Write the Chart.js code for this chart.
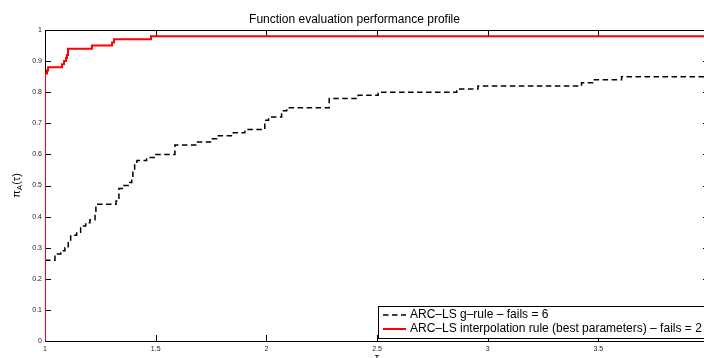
<!DOCTYPE html>
<html>
<head>
<meta charset="utf-8">
<script src="https://cdn.jsdelivr.net/npm/chart.js@4.4.1/dist/chart.umd.min.js"></script>
<style>
  html, body { margin: 0; padding: 0; overflow: hidden; background: #fff; }
  #wrap { width: 704px; height: 358px; overflow: hidden; }
  canvas { display: block; }
</style>
</head>
<body>
<div id="wrap"><canvas id="profile" width="720" height="372"></canvas></div>
<script>
// performance profile data (tau where each step starts)
var tauGrule = [1.000, 1.045, 1.071, 1.090, 1.105, 1.116, 1.143, 1.161, 1.184, 1.203,
                1.226, 1.230, 1.321, 1.334, 1.357, 1.383, 1.392, 1.397, 1.405, 1.415,
                1.459, 1.497, 1.587, 1.685, 1.748, 1.776, 1.846, 1.903, 1.993, 2.010,
                2.069, 2.092, 2.284, 2.415, 2.505, 2.860, 2.956, 3.424, 3.475, 3.605, 4.000];
var piGrule  = [0.26, 0.28, 0.29, 0.30, 0.32, 0.34, 0.35, 0.37, 0.38, 0.39,
                0.41, 0.44, 0.45, 0.49, 0.50, 0.51, 0.52, 0.55, 0.57, 0.58,
                0.59, 0.60, 0.63, 0.64, 0.65, 0.66, 0.67, 0.68, 0.71, 0.72,
                0.74, 0.75, 0.78, 0.79, 0.80, 0.81, 0.82, 0.83, 0.84, 0.85, 0.85];

var tauInterp = [1.000, 1.000, 1.009, 1.014, 1.077, 1.086, 1.095, 1.099, 1.104, 1.212, 1.303, 1.312, 1.479, 4.000];
var piInterp  = [0.00, 0.86, 0.87, 0.88, 0.89, 0.90, 0.91, 0.92, 0.94, 0.95, 0.96, 0.97, 0.98, 0.98];

var seriesNames = ['ARC–LS g–rule – fails = 6',
                   'ARC–LS interpolation rule (best parameters) – fails = 2'];

var xTicks = [1, 1.5, 2, 2.5, 3, 3.5, 4];
var yTicks = [0, 0.1, 0.2, 0.3, 0.4, 0.5, 0.6, 0.7, 0.8, 0.9, 1];

function toPoints(xs, ys) {
    return xs.map(function (x, i) { return { x: x, y: ys[i] }; });
}

var FONT = '"Liberation Sans", Arial, Helvetica, sans-serif';

// matlab style box with inward ticks and the y label, under the lines
var boxPlugin = {
    id: 'matlabBox',
    beforeDatasetsDraw: function (chart) {
        var ctx = chart.ctx, a = chart.chartArea;
        var xs = chart.scales.x, ys = chart.scales.y;
        ctx.save();
        ctx.strokeStyle = '#000';
        ctx.lineWidth = 1;
        ctx.strokeRect(a.left + 0.5, a.top + 0.5, a.right - a.left, a.bottom - a.top);
        ctx.beginPath();
        xTicks.forEach(function (v) {
            var px = Math.round(xs.getPixelForValue(v)) + 0.5;
            ctx.moveTo(px, a.bottom); ctx.lineTo(px, a.bottom - 6);
            ctx.moveTo(px, a.top); ctx.lineTo(px, a.top + 6);
        });
        yTicks.forEach(function (v) {
            var py = Math.round(ys.getPixelForValue(v)) + 0.5;
            ctx.moveTo(a.left, py); ctx.lineTo(a.left + 6, py);
            ctx.moveTo(a.right, py); ctx.lineTo(a.right - 6, py);
        });
        ctx.stroke();

        // y axis label pi_A(tau)
        ctx.translate(17, (a.top + a.bottom) / 2);
        ctx.rotate(-Math.PI / 2);
        ctx.fillStyle = '#000';
        ctx.textBaseline = 'middle';
        ctx.textAlign = 'left';
        var f1 = '11px ' + FONT, f2 = '8px ' + FONT;
        ctx.font = f1;
        var w1 = ctx.measureText('π').width, w3 = ctx.measureText('(τ)').width;
        ctx.font = f2;
        var w2 = ctx.measureText('A').width;
        var x0 = -(w1 + w2 + w3) / 2;
        ctx.font = f1; ctx.fillText('π', x0, 0);
        ctx.font = f2; ctx.fillText('A', x0 + w1, 3);
        ctx.font = f1; ctx.fillText('(τ)', x0 + w1 + w2, 0);
        ctx.restore();
    },
    // legend box inside the axes, lower right
    afterDatasetsDraw: function (chart) {
        var ctx = chart.ctx, a = chart.chartArea;
        ctx.save();
        ctx.font = '12px ' + FONT;
        var dsets = chart.data.datasets;
        var tw = 0;
        dsets.forEach(function (d) { tw = Math.max(tw, ctx.measureText(d.label).width); });
        var lw = 32 + tw + 4, lh = 32;
        var lx = Math.round(a.right - 3 - lw), ly = Math.round(a.bottom - 3 - lh);
        ctx.fillStyle = '#fff';
        ctx.fillRect(lx, ly, lw, lh);
        ctx.strokeStyle = '#000';
        ctx.lineWidth = 1;
        ctx.strokeRect(lx + 0.5, ly + 0.5, lw, lh);
        dsets.forEach(function (d, i) {
            var cy = ly + 9 + i * 14;
            ctx.beginPath();
            ctx.strokeStyle = d.borderColor;
            ctx.lineWidth = d.borderWidth;
            ctx.setLineDash(d.borderDash || []);
            ctx.moveTo(lx + 5, cy);
            ctx.lineTo(lx + 28, cy);
            ctx.stroke();
            ctx.setLineDash([]);
            ctx.fillStyle = '#000';
            ctx.textBaseline = 'middle';
            ctx.textAlign = 'left';
            ctx.fillText(d.label, lx + 32, cy);
        });
        ctx.restore();
    }
};

var chart = new Chart(document.getElementById('profile'), {
    type: 'line',
    data: {
        datasets: [{
            label: seriesNames[0],
            data: toPoints(tauGrule, piGrule),
            borderColor: '#000000',
            borderWidth: 1.5,
            borderDash: [5.5, 3.5],
            stepped: true,
            pointRadius: 0,
            fill: false,
            order: 2
        }, {
            label: seriesNames[1],
            data: toPoints(tauInterp, piInterp),
            borderColor: '#ff0000',
            borderWidth: 2,
            stepped: true,
            pointRadius: 0,
            fill: false,
            order: 1
        }]
    },
    options: {
        responsive: false,
        animation: false,
        devicePixelRatio: 1,
        layout: { padding: { left: 0, right: 11, top: 0, bottom: 0 } },
        plugins: {
            legend: { display: false },
            tooltip: { enabled: false },
            title: {
                display: true,
                text: 'Function evaluation performance profile',
                color: '#000',
                font: { family: FONT, size: 12, weight: 'normal' },
                padding: { top: 12, bottom: 3.6 }
            }
        },
        scales: {
            x: {
                type: 'linear',
                min: 1,
                max: 4,
                afterBuildTicks: function (s) { s.ticks = xTicks.map(function (v) { return { value: v }; }); },
                afterFit: function (s) { s.height = 31; },
                grid: { display: false, drawTicks: false },
                border: { display: false },
                ticks: {
                    color: '#222',
                    font: { family: FONT, size: 7 },
                    padding: 4,
                    maxRotation: 0,
                    autoSkip: false,
                    callback: function (v) { return String(v); }
                },
                title: {
                    display: true,
                    text: 'τ',
                    color: '#000',
                    font: { family: FONT, size: 11 },
                    padding: { top: 0, bottom: 7 }
                }
            },
            y: {
                type: 'linear',
                min: 0,
                max: 1,
                afterBuildTicks: function (s) { s.ticks = yTicks.map(function (v) { return { value: v }; }); },
                afterFit: function (s) { s.width = 45; },
                grid: { display: false, drawTicks: false },
                border: { display: false },
                ticks: {
                    color: '#222',
                    font: { family: FONT, size: 7 },
                    padding: 3,
                    autoSkip: false,
                    callback: function (v) { return String(v); }
                }
            }
        }
    },
    plugins: [boxPlugin]
});
</script>
</body>
</html>
